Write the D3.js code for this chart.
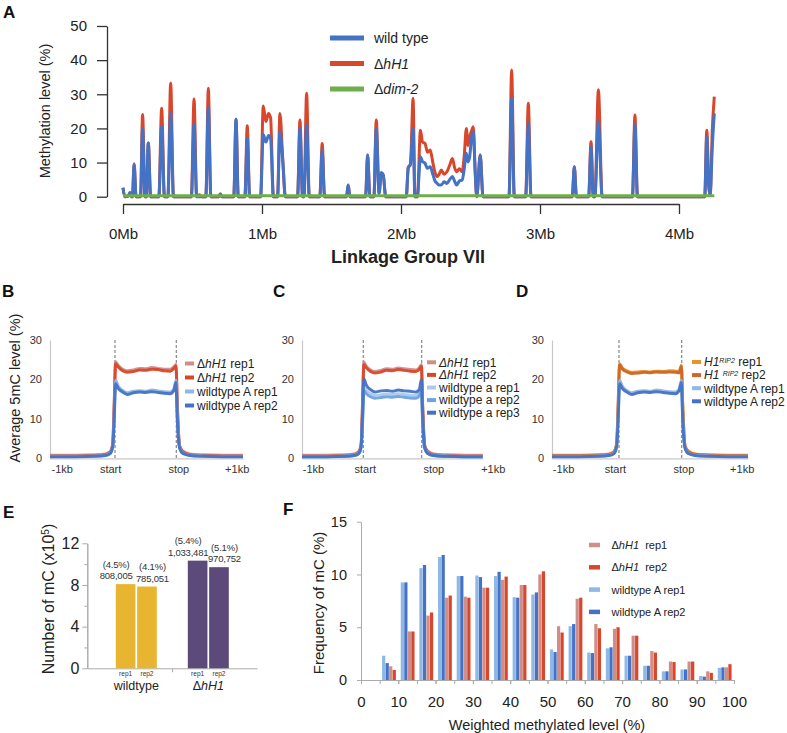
<!DOCTYPE html>
<html><head><meta charset="utf-8">
<script src="https://cdn.jsdelivr.net/npm/d3@7"></script>
<style>body{margin:0;background:#fff}svg{display:block;font-family:"Liberation Sans",Arial,Helvetica,sans-serif}</style>
</head><body>
<script>
// ---------- Panel A data ----------
const posA = [0.000,0.013,0.040,0.050,0.060,0.068,0.080,0.094,0.126,0.141,0.158,0.168,0.182,0.199,0.258,0.278,0.298,0.323,0.343,0.363,
0.492,0.511,0.530,0.550,0.568,0.596,0.614,0.632,0.690,0.700,0.712,0.797,0.813,0.829,0.877,0.894,0.911,0.990,1.009,1.028,
1.047,1.062,1.082,1.112,1.129,1.150,1.168,1.256,1.273,1.292,1.302,1.321,1.340,1.416,1.433,1.450,1.608,1.620,1.632,1.745,
1.760,1.776,1.805,1.822,1.842,1.858,1.872,1.890,2.038,2.052,2.068,2.087,2.100,2.118,2.140,2.155,2.173,2.190,2.210,2.230,
2.245,2.260,2.275,2.290,2.310,2.330,2.350,2.370,2.385,2.400,2.420,2.440,2.455,2.470,2.482,2.494,2.507,2.520,2.533,2.545,
2.570,2.590,2.777,2.796,2.815,2.897,2.916,2.935,3.232,3.247,3.262,3.350,3.367,3.383,3.395,3.420,3.447,3.665,3.683,3.701,
4.185,4.200,4.214,4.224,4.240,4.254];
const wtA = [2.6,0,0.3,1.2,0,0,9.6,0,0,20.0,0,0,15.7,0,0,20.5,0,0,24.5,0,
0,21.3,0,0,0,0,26.1,0,0,0.8,0,0,22.7,0,0,17.2,0,0,18.2,16.0,
17.9,17.0,0,0,19.0,10.3,0,0,20.0,0,0,21.0,0,0,13.7,0,0,3.4,0,0,
12.2,0,0,20.0,1.0,7.0,6.4,0,0,8.5,9.5,20.0,0,0,11.7,10.3,9.8,8.3,8.8,6.4,
4.6,3.9,3.4,3.4,4.4,3.9,5.0,5.9,4.6,3.4,4.6,4.9,8.2,12.7,10.2,11.7,17.0,19.0,8.0,0,
12.2,0,0,28.8,0,0,21.5,0,0,8.8,0,0,14.6,0,0,22.0,0,0,21.0,0,
0,17.6,3,0.5,15,24.4];
const hH1A = [2.6,0,0.3,1.2,0,0,9.6,0,0,24.1,0,0,15.7,0,0,25.9,0,0,33.3,0,
0,28.6,0,0.6,0,0,31.8,0,0,0.8,0,0,22.7,0,0,20.8,0,0,26.6,22.0,
24.4,23.0,0,0,24.4,10.3,0,0,22.5,0,0,30.3,0,0,15.6,0,0,3.4,0,0,
12.2,0,0,22.5,1.0,7.0,6.4,0,0,8.5,9.5,28.8,0,0,19.5,16.0,15.6,13.0,13.7,9.8,
7.0,5.9,6.6,7.8,6.6,7.3,9.2,11.2,8.6,7.3,8.2,7.3,12.0,20.0,15.0,17.6,19.2,20.5,8.0,0,
12.2,0,0,37.1,0,0,27.4,0,0,8.8,0,0,16.1,0,0,31.3,0,0,23.9,0,
0,19.5,3,0.5,20,29.3];
const posDim = [0,0.5,1,1.5,2,2.5,3,3.5,4,4.254];
const dimA = [0.3,0.3,0.3,0.3,0.3,0.3,0.3,0.3,0.3,0.3];
const tickMb = [0,1,2,3,4];
const yTicksA = [0,10,20,30,40,50];

// ---------- Panels B-D data ----------
const profPos = [0,8,14,17,18.5,19.3,19.75,20.2,21,22.5,24,26,28,30,32,34,36,38,39.2,39.9,40.3,41,42,44,48,54,60];
const bHH1r1 = [0.8,0.8,0.9,1.1,1.7,3.8,14,24.5,23.6,22.6,22.2,22.4,22.8,22.7,23.0,22.8,22.6,22.6,23.2,23.8,14,3.2,1.8,1.1,0.9,0.8,0.8];
const bHH1r2 = [0.6,0.6,0.7,0.9,1.5,3.4,13,24.0,23.2,22.2,21.8,22.0,22.4,22.3,22.6,22.5,22.2,22.1,22.8,23.4,13,3.0,1.6,0.9,0.7,0.6,0.6];
const bWTr1 = [0.5,0.5,0.6,0.8,1.3,3.2,11,19.8,18.4,17.2,16.6,17.0,17.1,17.0,17.3,17.1,16.9,16.8,17.6,19.8,11,2.8,1.3,0.8,0.6,0.5,0.5];
const bWTr2 = [0.4,0.4,0.5,0.7,1.2,3.0,10,19.0,17.8,16.8,16.2,16.6,16.8,16.7,16.9,16.7,16.5,16.4,17.2,19.2,10,2.6,1.2,0.7,0.5,0.4,0.4];
const cHH1r1 = [0.8,0.8,0.9,1.1,1.7,3.8,14,24.4,23.4,22.4,22.0,22.3,22.7,22.6,22.9,22.7,22.5,22.4,23.0,23.8,14,3.2,1.8,1.1,0.9,0.8,0.8];
const cHH1r2 = [0.6,0.6,0.7,0.9,1.5,3.4,13,23.8,23.0,22.0,21.6,21.9,22.3,22.2,22.5,22.3,22.1,22.0,22.6,23.3,13,3.0,1.6,0.9,0.7,0.6,0.6];
const cWTa1 = [0.5,0.5,0.6,0.8,1.3,3.0,10,18.2,17.2,16.4,15.9,16.1,16.3,16.2,16.4,16.2,16.0,15.9,16.6,18.4,10,2.7,1.3,0.8,0.6,0.5,0.5];
const cWTa2 = [0.4,0.4,0.5,0.7,1.2,2.8,9,17.2,16.4,15.6,15.2,15.4,15.6,15.5,15.7,15.5,15.3,15.2,15.9,17.4,9,2.5,1.2,0.7,0.5,0.4,0.4];
const cWTa3 = [0.4,0.4,0.5,0.7,1.2,3.1,11,20.2,18.6,17.4,16.8,17.1,17.2,17.0,17.3,17.1,17.0,16.8,17.5,20.0,11,2.7,1.2,0.7,0.5,0.4,0.4];
const dRIPr1 = [0.8,0.8,0.9,1.1,1.7,3.8,14,24.0,23.0,22.2,21.8,21.9,22.0,21.9,22.1,22.0,22.2,22.1,22.0,23.6,14,3.2,1.8,1.1,0.9,0.8,0.8];
const dRIPr2 = [0.7,0.7,0.8,1.0,1.6,3.6,13,23.7,22.7,21.9,21.5,21.6,21.8,21.7,21.9,21.8,21.9,21.8,21.7,23.3,13,3.1,1.7,1.0,0.8,0.7,0.7];
const dWTr1 = [0.5,0.5,0.6,0.8,1.3,3.2,11,19.8,18.4,17.2,16.6,17.0,17.1,17.0,17.3,17.1,16.9,16.8,17.6,19.8,11,2.8,1.3,0.8,0.6,0.5,0.5];
const dWTr2 = [0.4,0.4,0.5,0.7,1.2,3.0,10,19.0,17.8,16.8,16.2,16.6,16.8,16.7,16.9,16.7,16.5,16.4,17.2,19.2,10,2.6,1.2,0.7,0.5,0.4,0.4];
const profTickLabels = ["-1kb","start","stop","+1kb"];
const bTickPos = [3.6,18.5,40.6,58.1];
const cTickPos = [3.6,20.5,43.8,63.3];
const dTickPos = [3.3,18.8,40.5,58.1];
const profYTicks = [0,10,20,30];

// ---------- Panel E data ----------
const eGroups = ["wildtype","ΔhH1"];
const eReps = ["rep1","rep2"];
const eValues = [[8.08005,7.85051],[10.33481,9.70752]];
const eCounts = [["808,005","785,051"],["1,033,481","970,752"]];
const ePct = [["(4.5%)","(4.1%)"],["(5.4%)","(5.1%)"]];
const eYTicks = [0,4,8,12];
const eYMinor = [2,6,10];

// ---------- Panel F data ----------
const fBins = [5,10,15,20,25,30,35,40,45,50,55,60,65,70,75,80,85,90,95];
const fWT1 = [2.3,9.25,10.6,11.65,9.85,9.9,9.85,7.85,8.1,2.9,5.1,2.6,3.0,2.3,1.35,0.82,1.0,0.38,1.15];
const fWT2 = [1.6,9.25,10.9,11.85,9.85,9.75,10.25,7.8,8.3,2.65,5.3,2.55,3.1,2.3,1.35,0.82,1.0,0.32,1.2];
const fH1 = [1.3,4.6,6.1,7.8,7.9,8.75,9.5,9.0,10.0,5.1,7.7,5.3,4.85,4.2,2.75,1.75,1.75,0.82,1.2];
const fH2 = [0.95,4.6,6.4,8.0,7.8,8.75,9.8,9.0,10.3,4.5,7.8,4.9,5.0,4.2,2.6,1.7,1.75,0.68,1.5];
const fXTicks = [0,10,20,30,40,50,60,70,80,90,100];
const fXMinor = [0,5,10,15,20,25,30,35,40,45,50,55,60,65,70,75,80,85,90,95,100];
const fYTicks = [0,5,10,15];

// ---------- colours ----------
const C = {blue:"#4472C4", red:"#D8472B", green:"#6FAE4B", rose:"#CF8E88", lblue:"#8FB8E6",
  mblue:"#6FA3DE", xlblue:"#A9CAEE", orange:"#E8932C", dorange:"#CF6528", gold:"#E8B531", purple:"#5B4A7A"};

const svg = d3.select("body").append("svg").attr("width",787).attr("height",733);

function rich(sel, parts){
  parts.forEach(p=>{
    const ts = sel.append("tspan").text(p.t);
    if(p.i) ts.attr("font-style","italic");
    if(p.sup) ts.attr("font-size",p.sup).attr("baseline-shift","super");
  });
  return sel;
}
function panelLabel(t,x,y){
  svg.append("text").attr("x",x).attr("y",y).attr("font-size",17).attr("font-weight","bold").attr("fill","#111").text(t);
}
panelLabel("A",3,18); panelLabel("B",2,297); panelLabel("C",273,297); panelLabel("D",516,297);
panelLabel("E",3,518); panelLabel("F",283,515);

// ================= Panel A =================
{
  const x = d3.scaleLinear().domain([0,4]).range([123,679]);
  const y = d3.scaleLinear().domain([0,50]).range([196.7,26]);
  const ya = svg.append("g").attr("transform","translate(107,0)")
    .call(d3.axisLeft(y).tickValues(yTicksA).tickSize(10).tickSizeOuter(0).tickPadding(10));
  const xa = svg.append("g").attr("transform","translate(0,204)")
    .call(d3.axisBottom(x).tickValues(tickMb).tickSize(10).tickSizeOuter(0).tickPadding(14).tickFormat(d=>d+"Mb"));
  [ya,xa].forEach(g=>{g.selectAll("path,line").attr("stroke","#333").attr("stroke-width",1.3);
    g.selectAll("text").attr("font-size",15).attr("fill","#222").attr("font-family",null);});
  svg.append("text").attr("transform","translate(50,111) rotate(-90)").attr("text-anchor","middle")
    .attr("font-size",14.5).attr("fill","#222").text("Methylation level (%)");
  svg.append("text").attr("x",408).attr("y",263).attr("text-anchor","middle").attr("font-size",18)
    .attr("font-weight","bold").attr("fill","#222").text("Linkage Group VII");
  const line = d3.line().x(d=>x(d[0])).y(d=>y(d[1])).curve(d3.curveMonotoneX);
  const draw = (xs,vs,col)=>svg.append("path").datum(xs.map((p,i)=>[p,vs[i]])).attr("d",line)
    .attr("fill","none").attr("stroke",col).attr("stroke-width",3).attr("stroke-linejoin","round");
  draw(posA,hH1A,C.red); draw(posA,wtA,C.blue); draw(posDim,dimA,C.green);
  const leg = [[[{t:"wild type"}],C.blue],[[{t:"Δ"},{t:"hH1",i:true}],C.red],[[{t:"Δ"},{t:"dim-2",i:true}],C.green]];
  leg.forEach((l,i)=>{
    const yy = 38 + i*25.5;
    svg.append("line").attr("x1",330).attr("x2",364).attr("y1",yy).attr("y2",yy).attr("stroke",l[1]).attr("stroke-width",5);
    rich(svg.append("text").attr("x",374).attr("y",yy+5).attr("font-size",14).attr("fill","#222"), l[0]);
  });
}

// ================= Panels B-D =================
function profile(cfg){
  const x = d3.scaleLinear().domain([0,20,40,60]).range(cfg.range);
  const y = d3.scaleLinear().domain([0,30]).range([458.3,340]);
  const ya = svg.append("g").attr("transform",`translate(${cfg.range[0]},0)`)
    .call(d3.axisLeft(y).tickValues(profYTicks).tickSize(0).tickSizeOuter(0).tickPadding(8));
  const xa = svg.append("g").attr("transform","translate(0,458.3)")
    .call(d3.axisBottom(x).tickValues(cfg.ticks).tickSize(0).tickSizeOuter(0).tickPadding(7)
      .tickFormat((d,i)=>profTickLabels[i]));
  [ya,xa].forEach(g=>{g.selectAll("path,line").attr("stroke","#c8c8c8").attr("stroke-width",1.2);
    g.selectAll("text").attr("font-size",11).attr("fill","#333").attr("font-family",null);});
  [20,40].forEach(v=>svg.append("line").attr("x1",x(v)).attr("x2",x(v)).attr("y1",y(30)).attr("y2",y(0))
    .attr("stroke","#888").attr("stroke-width",1.2).attr("stroke-dasharray","3,2"));
  const line = d3.line().x(d=>x(d[0])).y(d=>y(d[1])).curve(d3.curveMonotoneX);
  cfg.series.forEach(s=>{
    svg.append("path").datum(profPos.map((p,i)=>[p,s.v[i]])).attr("d",line).attr("fill","none")
      .attr("stroke",s.c).attr("stroke-width",3).attr("stroke-linejoin","round").attr("opacity",0.95);
  });
  cfg.legend.forEach((l,i)=>{
    const yy = cfg.ly + i*cfg.ldy;
    svg.append("line").attr("x1",cfg.lx).attr("x2",cfg.lx+9).attr("y1",yy).attr("y2",yy)
      .attr("stroke",l.c).attr("stroke-width",4);
    rich(svg.append("text").attr("x",cfg.lx+12).attr("y",yy+4.3).attr("font-size",12).attr("fill","#222"), l.t);
  });
}
profile({range:[50,115,176.3,243], ticks:bTickPos,
  series:[{v:bHH1r1,c:C.rose},{v:bHH1r2,c:C.red},{v:bWTr1,c:C.lblue},{v:bWTr2,c:C.blue}],
  lx:185, ly:363.5, ldy:14,
  legend:[{t:[{t:"Δ"},{t:"hH1",i:true},{t:" rep1"}],c:C.rose},{t:[{t:"Δ"},{t:"hH1",i:true},{t:" rep2"}],c:C.red},
    {t:[{t:"wildtype A rep1"}],c:C.lblue},{t:[{t:"wildtype A rep2"}],c:C.blue}]});
profile({range:[302,363.3,421.7,482.7], ticks:cTickPos,
  series:[{v:cHH1r1,c:C.rose},{v:cHH1r2,c:C.red},{v:cWTa1,c:C.xlblue},{v:cWTa2,c:C.mblue},{v:cWTa3,c:C.blue}],
  lx:427, ly:362.3, ldy:12.6,
  legend:[{t:[{t:"ΔhH1",i:true},{t:" rep1"}],c:C.rose},{t:[{t:"ΔhH1",i:true},{t:" rep2"}],c:C.red},
    {t:[{t:"wildtype a rep1"}],c:C.xlblue},{t:[{t:"wildtype a rep2"}],c:C.mblue},{t:[{t:"wildtype a rep3"}],c:C.blue}]});
profile({range:[552,619,681.7,748], ticks:dTickPos,
  series:[{v:dRIPr1,c:C.orange},{v:dRIPr2,c:C.dorange},{v:dWTr1,c:C.lblue},{v:dWTr2,c:C.blue}],
  lx:692, ly:362, ldy:13.1,
  legend:[{t:[{t:"H1",i:true},{t:"RIP2",i:true,sup:7},{t:" rep1"}],c:C.orange},
    {t:[{t:"H1 ",i:true},{t:"RIP2",i:true,sup:7},{t:" rep2"}],c:C.dorange},
    {t:[{t:"wildtype A rep1"}],c:C.lblue},{t:[{t:"wildtype A rep2"}],c:C.blue}]});
svg.append("text").attr("transform","translate(20,388) rotate(-90)").attr("text-anchor","middle")
  .attr("font-size",14.5).attr("fill","#222").text("Average 5mC level (%)");

// ================= Panel E =================
{
  const y = d3.scaleLinear().domain([0,12]).range([668.3,543.3]);
  const x0 = d3.scaleBand().domain(eGroups).range([100.3,244.3]);
  const x1 = d3.scaleBand().domain(eReps).range([-20.5,20.5]).paddingInner(0.08);
  const ya = svg.append("g").attr("transform","translate(87.3,0)")
    .call(d3.axisLeft(y).tickValues(eYTicks).tickSize(5).tickSizeOuter(0).tickPadding(3));
  const ym = svg.append("g").attr("transform","translate(87.3,0)")
    .call(d3.axisLeft(y).tickValues(eYMinor).tickSize(3).tickSizeOuter(0).tickFormat(""));
  const xl = d3.scaleLinear().domain([0,2]).range([87.3,257]);
  const xa = svg.append("g").attr("transform","translate(0,668.3)")
    .call(d3.axisBottom(xl).tickValues([1]).tickSize(4).tickSizeOuter(0).tickFormat(""));
  [ya,ym,xa].forEach(g=>{g.selectAll("path,line").attr("stroke","#aaa").attr("stroke-width",1);
    g.selectAll("text").attr("font-size",16).attr("fill","#222").attr("font-family",null);});
  const offs = [-9.5,5.5];
  eGroups.forEach((g,gi)=>{
    const cx = x0(g)+x0.bandwidth()/2;
    eReps.forEach((r,ri)=>{
      const bx = cx + x1(r), v = eValues[gi][ri];
      svg.append("rect").attr("x",bx).attr("y",y(v)).attr("width",x1.bandwidth()).attr("height",y(0)-y(v))
        .attr("fill",gi===0?C.gold:C.purple);
      const lx = bx + x1.bandwidth()/2 + offs[ri];
      svg.append("text").attr("x",lx).attr("y",y(v)-5).attr("text-anchor","middle").attr("font-size",9.5)
        .attr("letter-spacing",-0.2).attr("fill","#333").text(eCounts[gi][ri]);
      svg.append("text").attr("x",lx).attr("y",y(v)-16.5).attr("text-anchor","middle").attr("font-size",9.5)
        .attr("letter-spacing",-0.2).attr("fill","#333").text(ePct[gi][ri]);
      svg.append("text").attr("x",bx + x1.bandwidth()/2).attr("y",675.5).attr("text-anchor","middle")
        .attr("font-size",6.5).attr("fill","#333").text(r);
    });
    const gt = svg.append("text").attr("x",cx).attr("y",689.5).attr("text-anchor","middle").attr("font-size",12.5).attr("fill","#222");
    if(gi===0) gt.text(g); else rich(gt,[{t:"Δ"},{t:"hH1",i:true}]);
  });
  const yl = svg.append("text").attr("transform","translate(54,599) rotate(-90)").attr("text-anchor","middle")
    .attr("font-size",16).attr("fill","#222");
  rich(yl,[{t:"Number of mC (x10"},{t:"5",sup:10},{t:")"}]);
}

// ================= Panel F =================
{
  const x = d3.scaleLinear().domain([0,100]).range([361,734]);
  const y = d3.scaleLinear().domain([0,15]).range([680,521.7]);
  const ya = svg.append("g").attr("transform","translate(361,0)")
    .call(d3.axisLeft(y).tickValues(fYTicks).tickSize(4).tickSizeOuter(0).tickPadding(10));
  const xm = svg.append("g").attr("transform","translate(0,680)")
    .call(d3.axisBottom(x).tickValues(fXMinor).tickSize(4).tickSizeOuter(0).tickFormat(""));
  const xa = svg.append("g").attr("transform","translate(0,680)")
    .call(d3.axisBottom(x).tickValues(fXTicks).tickSize(4).tickSizeOuter(0).tickPadding(12));
  [ya,xm,xa].forEach(g=>{g.selectAll("path,line").attr("stroke","#aaa").attr("stroke-width",1);
    g.selectAll("text").attr("font-size",15).attr("fill","#222").attr("font-family",null);});
  ya.selectAll("text").attr("font-size",14.5);
  const series = [{v:fWT1,c:C.lblue},{v:fWT2,c:C.blue},{v:fH1,c:C.rose},{v:fH2,c:C.red}];
  fBins.forEach((b,bi)=>{
    const xi = d3.scaleBand().domain(d3.range(4)).range([x(b+0.65),x(b+4.35)]).paddingInner(0.08);
    series.forEach((s,si)=>{
      svg.append("rect").attr("x",xi(si)).attr("y",y(s.v[bi])).attr("width",xi.bandwidth())
        .attr("height",y(0)-y(s.v[bi])).attr("fill",s.c);
    });
  });
  const leg = [[[{t:"Δ"},{t:"hH1",i:true},{t:"  rep1"}],C.rose],[[{t:"Δ"},{t:"hH1",i:true},{t:"  rep2"}],C.red],
    [[{t:"wildtype A rep1"}],C.lblue],[[{t:"wildtype A rep2"}],C.blue]];
  leg.forEach((l,i)=>{
    const yy = 545 + i*22.3;
    svg.append("line").attr("x1",589).attr("x2",600).attr("y1",yy).attr("y2",yy).attr("stroke",l[1]).attr("stroke-width",4.5);
    rich(svg.append("text").attr("x",611.5).attr("y",yy+4).attr("font-size",11).attr("fill","#222").attr("xml:space","preserve"), l[0]);
  });
  svg.append("text").attr("transform","translate(324,603) rotate(-90)").attr("text-anchor","middle")
    .attr("font-size",15).attr("fill","#222").text("Frequency of mC (%)");
  svg.append("text").attr("x",547).attr("y",730).attr("text-anchor","middle")
    .attr("font-size",14.5).attr("fill","#222").text("Weighted methylated level (%)");
}
</script></body></html>
